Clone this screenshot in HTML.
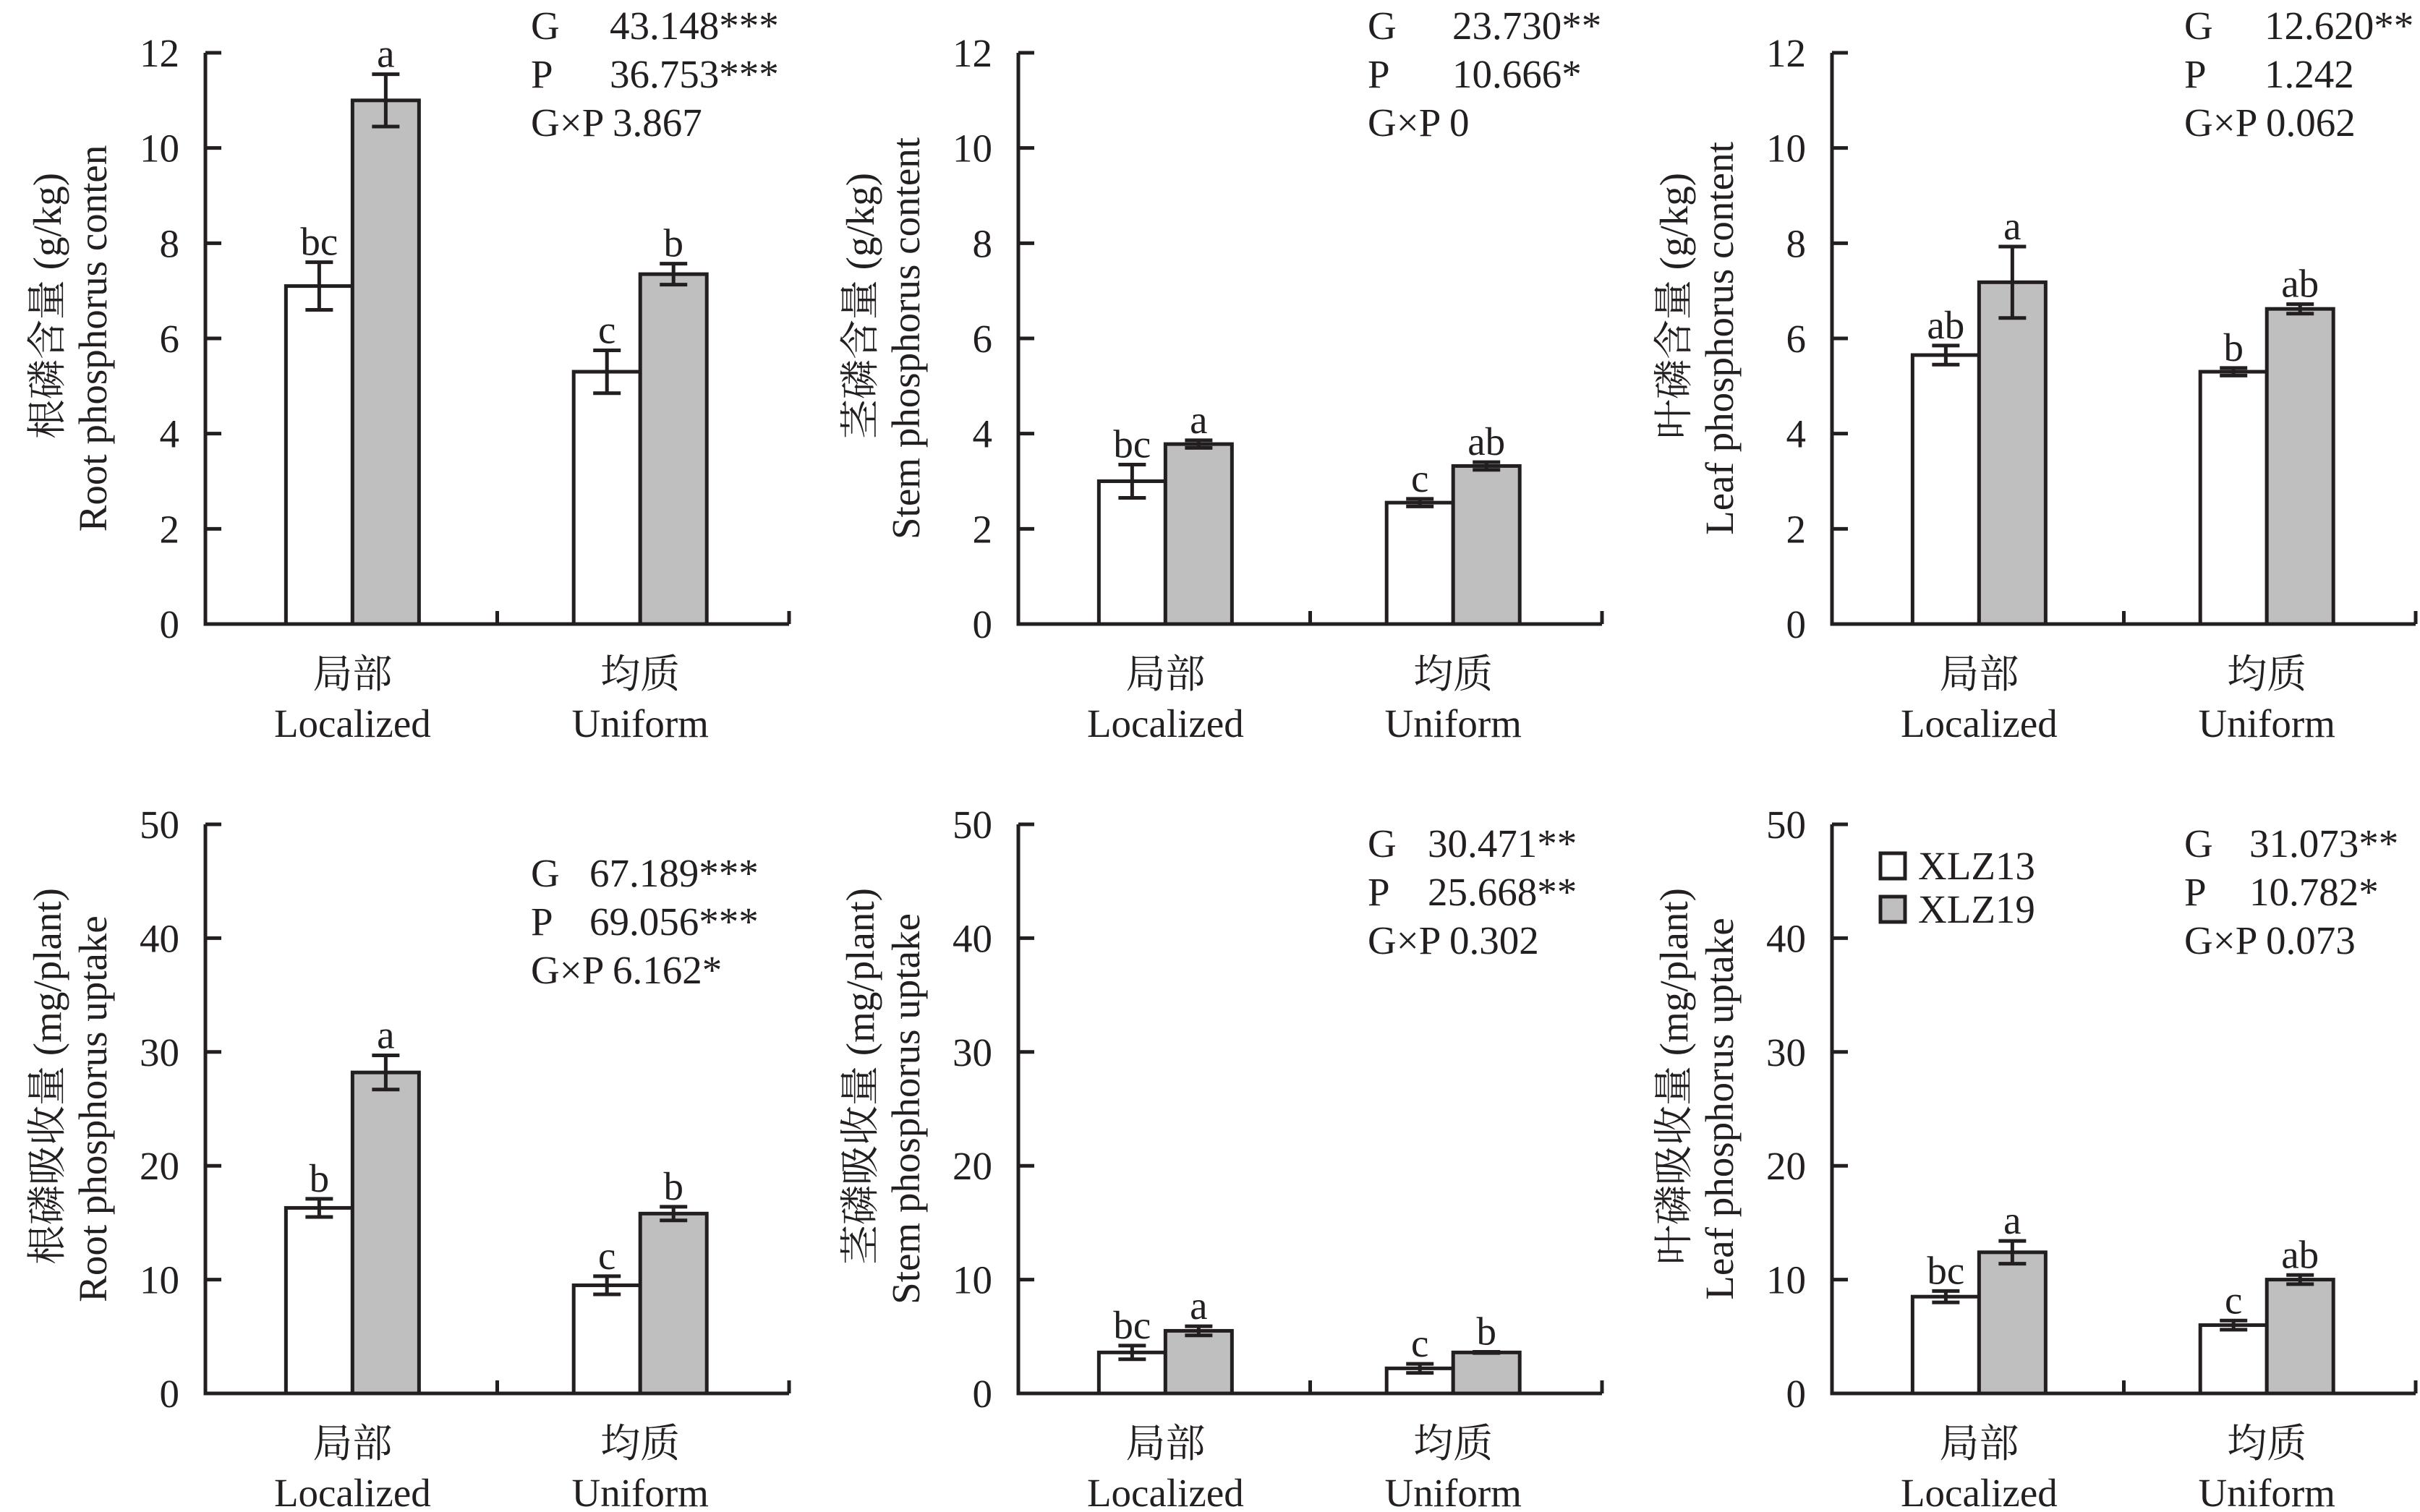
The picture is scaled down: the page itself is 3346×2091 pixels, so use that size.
<!DOCTYPE html>
<html><head><meta charset="utf-8"><style>
html,body{margin:0;padding:0;background:#fff;}
svg{display:block;font-family:"Liberation Serif","Noto Serif CJK SC",serif;}
</style></head><body>
<svg id="chart" width="3346" height="2091" viewBox="0 0 3346 2091" xmlns="http://www.w3.org/2000/svg"></svg>
<script>
const categories = ["Localized","Uniform"];
const categoriesZh = ["局部","均质"];
const seriesNames = ["XLZ13","XLZ19"];
const p1White = [7.1, 5.3];   const p1WhiteErr = [0.5, 0.45];
const p1Grey  = [11.0, 7.35]; const p1GreyErr  = [0.55, 0.22];
const p1Letters = [["bc","c"],["a","b"]];
const p2White = [3.0, 2.55];  const p2WhiteErr = [0.35, 0.08];
const p2Grey  = [3.78, 3.32]; const p2GreyErr  = [0.08, 0.08];
const p2Letters = [["bc","c"],["a","ab"]];
const p3White = [5.65, 5.3];  const p3WhiteErr = [0.2, 0.08];
const p3Grey  = [7.18, 6.62]; const p3GreyErr  = [0.75, 0.1];
const p3Letters = [["ab","b"],["a","ab"]];
const p4White = [16.3, 9.5];  const p4WhiteErr = [0.8, 0.8];
const p4Grey  = [28.2, 15.8]; const p4GreyErr  = [1.5, 0.6];
const p4Letters = [["b","c"],["a","b"]];
const p5White = [3.6, 2.2];   const p5WhiteErr = [0.6, 0.4];
const p5Grey  = [5.5, 3.6];   const p5GreyErr  = [0.4, 0.05];
const p5Letters = [["bc","c"],["a","b"]];
const p6White = [8.5, 6.0];   const p6WhiteErr = [0.5, 0.4];
const p6Grey  = [12.4, 10.0]; const p6GreyErr  = [1.0, 0.4];
const p6Letters = [["bc","c"],["a","ab"]];
const ticksTop = [0,2,4,6,8,10,12];
const ticksBottom = [0,10,20,30,40,50];
const stats1 = ["43.148***","36.753***","3.867"];
const stats2 = ["23.730**","10.666*","0"];
const stats3 = ["12.620**","1.242","0.062"];
const stats4 = ["67.189***","69.056***","6.162*"];
const stats5 = ["30.471**","25.668**","0.302"];
const stats6 = ["31.073**","10.782*","0.073"];

const NS="http://www.w3.org/2000/svg";
const svg=document.getElementById('chart');
function mk(tag,attrs,parent,txt){const e=document.createElementNS(NS,tag);for(const k in attrs)e.setAttribute(k,attrs[k]);if(txt!==undefined)e.textContent=txt;(parent||svg).appendChild(e);return e;}

const panels=[
 {ax:284,y0:863,yTop:73,max:12,ticks:ticksTop,w:p1White,we:p1WhiteErr,g:p1Grey,ge:p1GreyErr,let:p1Letters,st:stats1,gx:734,nx:843,sy:54,zh:"根磷含量 (g/kg)",en:"Root phosphorus conten",name:"root-p-content"},
 {ax:1408,y0:863,yTop:73,max:12,ticks:ticksTop,w:p2White,we:p2WhiteErr,g:p2Grey,ge:p2GreyErr,let:p2Letters,st:stats2,gx:1891,nx:2008,sy:54,zh:"茎磷含量 (g/kg)",en:"Stem phosphorus content",name:"stem-p-content"},
 {ax:2533,y0:863,yTop:73,max:12,ticks:ticksTop,w:p3White,we:p3WhiteErr,g:p3Grey,ge:p3GreyErr,let:p3Letters,st:stats3,gx:3020,nx:3131,sy:54,zh:"叶磷含量 (g/kg)",en:"Leaf phosphorus content",name:"leaf-p-content"},
 {ax:284,y0:1927,yTop:1140,max:50,ticks:ticksBottom,w:p4White,we:p4WhiteErr,g:p4Grey,ge:p4GreyErr,let:p4Letters,st:stats4,gx:734,nx:815,sy:1226,zh:"根磷吸收量 (mg/plant)",en:"Root phosphorus uptake",name:"root-p-uptake"},
 {ax:1408,y0:1927,yTop:1140,max:50,ticks:ticksBottom,w:p5White,we:p5WhiteErr,g:p5Grey,ge:p5GreyErr,let:p5Letters,st:stats5,gx:1891,nx:1974,sy:1185,zh:"茎磷吸收量 (mg/plant)",en:"Stem phosphorus uptake",name:"stem-p-uptake"},
 {ax:2533,y0:1927,yTop:1140,max:50,ticks:ticksBottom,w:p6White,we:p6WhiteErr,g:p6Grey,ge:p6GreyErr,let:p6Letters,st:stats6,gx:3020,nx:3110,sy:1185,zh:"叶磷吸收量 (mg/plant)",en:"Leaf phosphorus uptake",name:"leaf-p-uptake"}
];
const AW=807, BW=92, FS=55, SW=5;

panels.forEach(p=>{
  const g=mk('g',{});  
  const y=v=>p.y0-(v/p.max)*(p.y0-p.yTop);
  const xc=i=>p.ax+AW*(i===0?0.252:0.745);
  const axes=mk('path',{d:`M${p.ax} ${p.yTop}V${p.y0}H${p.ax+AW}`,fill:'none',stroke:'#231f20','stroke-width':SW},g);
   
  [0.5,1].forEach(f=>{mk('line',{x1:p.ax+AW*f,x2:p.ax+AW*f,y1:p.y0,y2:p.y0-18,stroke:'#231f20','stroke-width':SW},g);});
  p.ticks.forEach(t=>{
    mk('line',{x1:p.ax,x2:p.ax+22,y1:y(t),y2:y(t),stroke:'#231f20','stroke-width':SW},g);
    const tl=mk('text',{x:p.ax-36,y:y(t)+19,'font-size':FS,'text-anchor':'end',fill:'#231f20'},g,String(t));
     
  });
  [0,1].forEach(i=>{
    const c=xc(i);
    [[p.w,p.we,'#ffffff',c-BW,0],[p.g,p.ge,'#bfbfbf',c,1]].forEach(([vals,errs,fill,x0,s])=>{
      const v=vals[i],e=errs[i];
      const r=mk('rect',{x:x0,y:y(v),width:BW,height:p.y0-y(v),fill:fill,stroke:'#231f20','stroke-width':SW},g);
      
      
      const bx=x0+BW/2;
      const eb=mk('path',{d:`M${bx} ${y(v+e)}V${y(v-e)}M${bx-19} ${y(v+e)}H${bx+19}M${bx-19} ${y(v-e)}H${bx+19}`,stroke:'#231f20','stroke-width':SW,fill:'none'},g);
       
      const lt=mk('text',{x:bx,y:y(v+e)-10,'font-size':FS,'text-anchor':'middle',fill:'#231f20'},g,p.let[s][i]);
       
    });
    const cz=mk('text',{x:c,y:p.y0+88,'font-size':FS,'text-anchor':'middle',fill:'#231f20'},g,categoriesZh[i]);
     
    const ce=mk('text',{x:c,y:p.y0+156,'font-size':FS,'text-anchor':'middle',fill:'#231f20'},g,categories[i]);
     
  });
  const lab=["G","P"];
  [0,1,2].forEach(k=>{
    const yy=p.sy+k*67;
    if(k<2){
      const a=mk('text',{x:p.gx,y:yy,'font-size':FS,fill:'#231f20'},g,lab[k]);
       
      const b=mk('text',{x:p.nx,y:yy,'font-size':FS,fill:'#231f20'},g,p.st[k]);
       
    } else {
      const a=mk('text',{x:p.gx,y:yy,'font-size':FS,fill:'#231f20'},g,"G×P "+p.st[k]);
       
    }
  });
  const mid=(p.y0+p.yTop)/2;
  const t1=mk('text',{x:0,y:0,'font-size':FS,'text-anchor':'middle',fill:'#231f20',transform:`translate(${p.ax-200},${mid-45}) rotate(-90)`},g,p.zh);
   
  const t2=mk('text',{x:0,y:0,'font-size':FS,'text-anchor':'middle',fill:'#231f20',transform:`translate(${p.ax-137},${mid}) rotate(-90)`},g,p.en);
   
});
const lg=mk('g',{});  
[['#ffffff',1180],['#bfbfbf',1240]].forEach(([f,yy],i)=>{
  const r=mk('rect',{x:2600,y:yy,width:34,height:35,fill:f,stroke:'#231f20','stroke-width':SW},lg);
   
  const t=mk('text',{x:2652,y:yy+36,'font-size':FS,fill:'#231f20'},lg,seriesNames[i]);
   
});
</script>
</body></html>
